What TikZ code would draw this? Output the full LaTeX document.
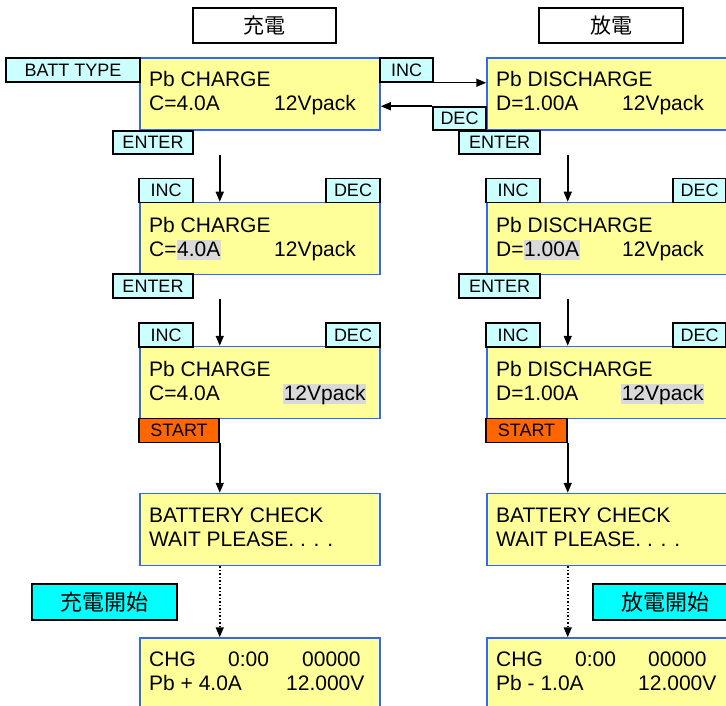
\documentclass[tikz,border=0pt]{standalone}
\usepackage{fontspec}
\setmainfont{Liberation Sans}
\newfontfamily\cjkfont{Noto Sans CJK JP}
\usetikzlibrary{arrows.meta,positioning,calc}
\definecolor{lcdyellow}{RGB}{255,255,153}
\definecolor{lcdblue}{RGB}{51,102,255}
\definecolor{keycyan}{RGB}{204,255,255}
\definecolor{startorange}{RGB}{255,102,0}
\definecolor{modecyan}{RGB}{0,255,255}
\definecolor{selgray}{RGB}{217,217,217}
\newcommand{\hl}[1]{{\setlength{\fboxsep}{0pt}\colorbox{selgray}{\rule[-4pt]{0pt}{20pt}\kern0.6pt#1\kern0.6pt}}}

\begin{document}
\begin{tikzpicture}[x=1pt, y=-1pt,
  lcdbox/.style={draw=lcdblue, line width=1.5pt, fill=lcdyellow,
    minimum width=240pt, minimum height=72pt, inner sep=0pt},
  keybox/.style={draw=black, line width=1.5pt, fill=keycyan, minimum height=24pt,
    inner sep=0pt, font=\fontsize{18}{18}\selectfont},
  lcdtext/.style={anchor=base west, inner sep=0pt, font=\fontsize{21}{24}\selectfont},
  titlebox/.style={draw=black, line width=1.5pt, fill=white, minimum width=143pt,
    minimum height=35pt, inner sep=0pt, font=\cjkfont\fontsize{21}{21}\selectfont},
  modebox/.style={draw=black, line width=2pt, fill=modecyan, minimum width=145pt,
    minimum height=36pt, inner sep=0pt, font=\cjkfont\fontsize{22}{22}\selectfont},
  arr/.style={-{Triangle[length=10pt,width=8pt]}, line width=1.5pt}]

\useasboundingbox (0,0) rectangle (726,706);
\clip (0,0) rectangle (726,706);

% Titles
\node[titlebox] (tchg) at (264.5,25.5) {充電};
\node[titlebox, minimum width=144pt] (tdis) at (611,25.5) {放電};

% LCD screens, charge side
\node[lcdbox] (c1) at (260,94) {};
\node[lcdbox] (c2) at (260,238.5) {};
\node[lcdbox] (c3) at (260,382.5) {};
\node[lcdbox] (chk1) at (260,529.5) {};
\node[lcdbox] (run1) at (260,674) {};

% LCD screens, discharge side
\node[lcdbox] (d1) at (607,94) {};
\node[lcdbox] (d2) at (607,238.5) {};
\node[lcdbox] (d3) at (607,382.5) {};
\node[lcdbox] (chk2) at (607,529.5) {};
\node[lcdbox] (run2) at (607,674) {};

% Screen texts
\node[lcdtext] (c1a) at (149,87) {Pb CHARGE};
\node[lcdtext] (c1b) at (149,111) {\makebox[125pt][l]{C=4.0A}12Vpack};
\node[lcdtext] (c2a) at (149,232) {Pb CHARGE};
\node[lcdtext] (c2b) at (149,256) {\makebox[125pt][l]{C=\hl{4.0A}}12Vpack};
\node[lcdtext] (c3a) at (149,376) {Pb CHARGE};
\node[lcdtext] (c3b) at (149,400) {\makebox[134pt][l]{C=4.0A}\hl{12Vpack}};
\node[lcdtext] (chk1a) at (149,522) {BATTERY CHECK};
\node[lcdtext] (chk1b) at (149,546) {WAIT PLEASE. . . .};
\node[lcdtext] (run1a) at (149,666) {\makebox[79pt][l]{CHG}\makebox[74pt][l]{0:00}00000};
\node[lcdtext] (run1b) at (149,690) {\makebox[137pt][l]{Pb + 4.0A}12.000V};

\node[lcdtext] (d1a) at (496,87) {Pb DISCHARGE};
\node[lcdtext] (d1b) at (496,111) {\makebox[126pt][l]{D=1.00A}12Vpack};
\node[lcdtext] (d2a) at (496,232) {Pb DISCHARGE};
\node[lcdtext] (d2b) at (496,256) {\makebox[126pt][l]{D=\hl{1.00A}}12Vpack};
\node[lcdtext] (d3a) at (496,376) {Pb DISCHARGE};
\node[lcdtext] (d3b) at (496,400) {\makebox[125pt][l]{D=1.00A}\hl{12Vpack}};
\node[lcdtext] (chk2a) at (496,522) {BATTERY CHECK};
\node[lcdtext] (chk2b) at (496,546) {WAIT PLEASE. . . .};
\node[lcdtext] (run2a) at (496,666) {\makebox[79pt][l]{CHG}\makebox[73pt][l]{0:00}00000};
\node[lcdtext] (run2b) at (496,690) {\makebox[142pt][l]{Pb - 1.0A}12.000V};

% Keys
\node[keybox, minimum width=134pt] (batt) at (73,70) {BATT TYPE};
\node[keybox, minimum width=53pt] (inc0) at (406.5,70) {INC};
\node[keybox, minimum width=53pt, minimum height=23pt] (dec0) at (459.5,118.5) {DEC};
\node[keybox, minimum width=80pt, minimum height=23pt] (ent1) at (153,142.5) {ENTER};
\node[keybox, minimum width=81pt, minimum height=23pt] (ent2) at (499.5,142.5) {ENTER};
\node[keybox, minimum width=54pt] (inc1) at (166,190.5) {INC};
\node[keybox, minimum width=54pt] (dec1) at (353,190.5) {DEC};
\node[keybox, minimum width=54pt] (inc2) at (513,190.5) {INC};
\node[keybox, minimum width=53pt] (dec2) at (699.5,190.5) {DEC};
\node[keybox, minimum width=80pt] (ent3) at (153,286) {ENTER};
\node[keybox, minimum width=81pt] (ent4) at (499.5,286) {ENTER};
\node[keybox, minimum width=54pt] (inc3) at (166,335) {INC};
\node[keybox, minimum width=54pt] (dec3) at (353,335) {DEC};
\node[keybox, minimum width=54pt] (inc4) at (513,335) {INC};
\node[keybox, minimum width=53pt] (dec4) at (699.5,335) {DEC};
\node[keybox, minimum width=80pt, fill=startorange] (start1) at (179,430.5) {START};
\node[keybox, minimum width=81pt, fill=startorange] (start2) at (526.5,430.5) {START};

% Mode labels
\node[modebox] (mchg) at (104.5,602) {充電開始};
\node[modebox] (mdis) at (665.5,602) {放電開始};

% Arrows
\draw[arr] (inc0.south east) -- (inc0.south east -| d1.west);
\draw[arr] (dec0.north west) -- (dec0.north west -| c1.east);

\draw[arr] (start1.east |- ent1.south) -- (start1.east |- c2.north);
\draw[arr] (start1.east |- ent3.south) -- (start1.east |- c3.north);
\draw[arr] (start1.south east) -- (start1.south east |- chk1.north);
\draw[arr, dotted] (start1.east |- chk1.south) -- (start1.east |- run1.north);

\draw[arr] (start2.east |- ent2.south) -- (start2.east |- d2.north);
\draw[arr] (start2.east |- ent4.south) -- (start2.east |- d3.north);
\draw[arr] (start2.south east) -- (start2.south east |- chk2.north);
\draw[arr, dotted] (start2.east |- chk2.south) -- (start2.east |- run2.north);

\end{tikzpicture}
\end{document}
